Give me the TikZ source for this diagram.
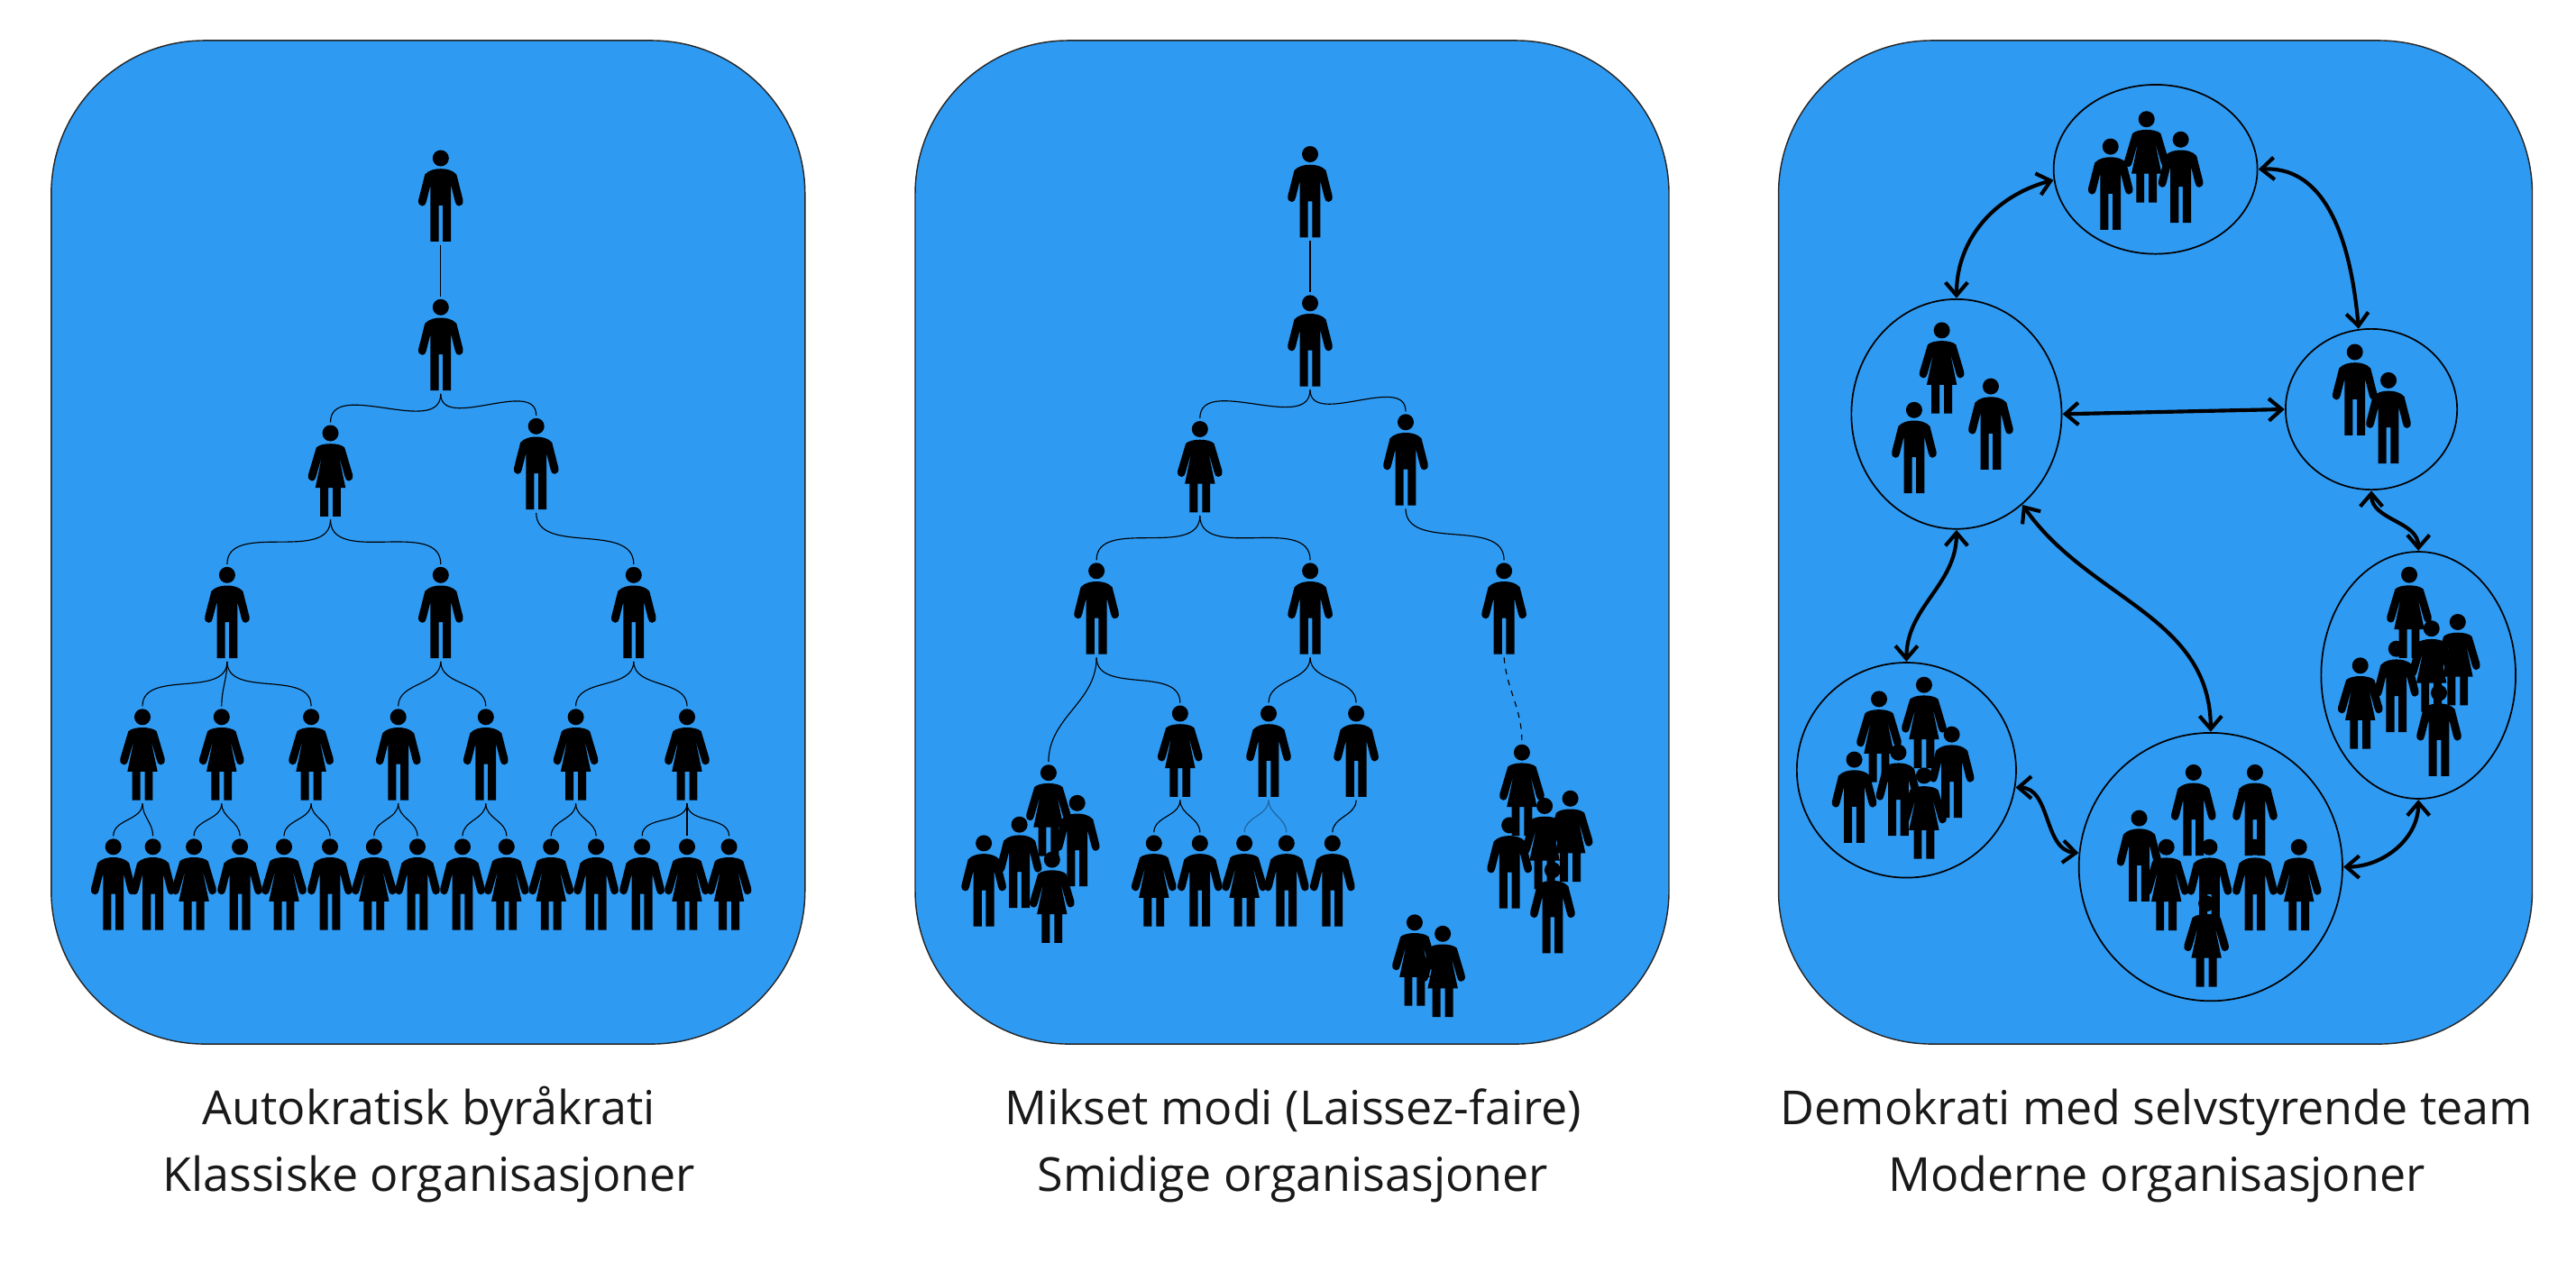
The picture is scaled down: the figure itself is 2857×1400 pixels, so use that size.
\documentclass[tikz,border=0pt]{standalone}
\usepackage{fontspec}
\setmainfont{Open Sans}
\usetikzlibrary{arrows.meta,shapes.geometric}
\definecolor{panelblue}{HTML}{2E9AF2}
\tikzset{
  man/.pic={
    \fill (0,9) circle[radius=9];
    \fill (0,20.7) .. controls (6,20.7) and (13,22) .. (17.5,27) -- (24.6,55)
      .. controls (25.6,60) and (22.5,62) .. (20.4,62) .. controls (18,62) and (16.5,60) .. (16,57.3)
      -- (11.4,39) -- (11.4,101.3) -- (2.3,101.3) -- (2.3,61.3) -- (-2.3,61.3) -- (-2.3,101.3) -- (-11.4,101.3) -- (-11.4,39)
      -- (-16,57.3) .. controls (-16.5,60) and (-18,62) .. (-20.4,62) .. controls (-22.5,62) and (-25.6,60) .. (-24.6,55)
      -- (-17.5,27) .. controls (-13,22) and (-6,20.7) .. (0,20.7) -- cycle;
    \coordinate (-top) at (0,-3);
    \coordinate (-bot) at (0,105);
  },
  woman/.pic={
    \fill (0,9) circle[radius=9];
    \fill (0,20.7) .. controls (6,20.7) and (13,22) .. (15.7,25) -- (24.6,55)
      .. controls (25.6,60) and (22.5,62) .. (20.4,62) .. controls (18,62) and (16.5,60) .. (16,57.3)
      -- (9.3,34) -- (16.7,69.5) -- (11.4,69.5) -- (11.4,101.3) -- (2.5,101.3) -- (2.5,69.5) -- (-2.5,69.5) -- (-2.5,101.3) -- (-11.4,101.3) -- (-11.4,69.5) -- (-16.7,69.5) -- (-9.3,34)
      -- (-16,57.3) .. controls (-16.5,60) and (-18,62) .. (-20.4,62) .. controls (-22.5,62) and (-25.6,60) .. (-24.6,55)
      -- (-15.7,25) .. controls (-13,22) and (-6,20.7) .. (0,20.7) -- cycle;
    \coordinate (-top) at (0,-3);
    \coordinate (-bot) at (0,105);
  }
}
\begin{document}
\begin{tikzpicture}[
  x=0.35pt, y=-0.35pt,
  panel/.style={draw=black!85, fill=panelblue, rounded corners=59.5pt, line width=0.5pt, inner sep=0pt, outer sep=0pt, minimum width=292.6pt, minimum height=389.6pt},
  caption/.style={anchor=base, font=\fontsize{18.2}{22}\selectfont, text=black!90, inner sep=0pt},
  tree/.style={line width=0.4pt},
  group/.style={draw=black, ellipse, line width=0.6pt, inner sep=0pt, outer sep=0.4pt},
  link/.style={{Straight Barb[length=5pt,width=8.6pt]}-{Straight Barb[length=5pt,width=8.6pt]}, line width=1.45pt}
]
\useasboundingbox (0,0) rectangle (2857,1400);
\node[panel] (classic) at (474.8,601.5) {};
\node[panel] (mixed) at (1433,601.5) {};
\node[panel] (modern) at (2390.5,601.5) {};

\node[caption] (classic1) at (475.5,1247) {Autokratisk byråkrati};
\node[caption] (classic2) at (475.5,1321.7) {Klassiske organisasjoner};
\node[caption] (mixed1) at (1434,1247) {Mikset modi (Laissez-faire)};
\node[caption] (mixed2) at (1434,1321.7) {Smidige organisasjoner};
\node[caption] (modern1) at (2392,1247) {Demokrati med selvstyrende team};
\node[caption] (modern2) at (2392,1321.7) {Moderne organisasjoner};

% klassisk
\foreach \n/\x/\y in {aboss/488.8/166.5, achief/488.8/331.8, aleadr/594.7/463.8, amgr1/251.9/628.8, amgr2/488.8/628.8, amgr3/702.8/628.8,
    ateam4/441.7/786.3, ateam5/538.8/786.3, awork1/125.7/930.3, awork2/169.6/930.3, awork4/266.1/930.3, awork6/366/930.3,
    awork8/463/930.3, awork9/513/930.3, awork12/661.1/930.3, awork13/712.1/930.3}
  \pic (\n) at (\x,\y) {man};
\foreach \n/\x/\y in {aleadl/366.5/471.5, ateam1/158/786.3, ateam2/245.8/786.3, ateam3/345.1/786.3, ateam6/638.6/786.3, ateam7/762/786.3,
    awork3/215.1/930.3, awork5/315/930.3, awork7/414.8/930.3, awork10/561.8/930.3, awork11/611.2/930.3, awork14/762/930.3, awork15/808.6/930.3}
  \pic (\n) at (\x,\y) {woman};
\foreach \a/\b in {aboss/achief, achief/aleadl, achief/aleadr, aleadl/amgr1, aleadl/amgr2, aleadr/amgr3,
    amgr1/ateam1, amgr1/ateam2, amgr1/ateam3, amgr2/ateam4, amgr2/ateam5, amgr3/ateam6, amgr3/ateam7,
    ateam1/awork1, ateam1/awork2, ateam2/awork3, ateam2/awork4, ateam3/awork5, ateam3/awork6, ateam4/awork7, ateam4/awork8,
    ateam5/awork9, ateam5/awork10, ateam6/awork11, ateam6/awork12, ateam7/awork13, ateam7/awork14, ateam7/awork15}
  \draw[tree] (\a-bot) to[out=-90,in=90] (\b-top);

% mikset
\foreach \n/\x/\y in {bboss/1453/162, bchief/1453/327.3, bleadr/1559/459.3, bmgr1/1216.1/624.3, bmgr2/1453.1/624.3, bmgr3/1668.1/624.3,
    bteam2/1407/782.5, bteam3/1504.1/782.5, bwork2/1330.8/926.4, bwork4/1426.8/926.4, bwork5/1477.8/926.4,
    bleft2/1194.7/881.8, bleft3/1130.6/905.7, bleft4/1091.1/926.4, bright4/1674.2/906.4, bright5/1721.9/956.1}
  \pic (\n) at (\x,\y) {man};
\foreach \n/\x/\y in {bleadl/1330.8/467, bteam1/1308.8/782.5, bwork1/1279.8/926.4, bwork3/1380.1/926.4,
    bleft1/1162.9/848.2, bleft5/1166.8/944.6, bright1/1687.9/825.7, bright2/1741.6/876.8, bright3/1713.1/885,
    bpair1/1568.9/1014.3, bpair2/1600.1/1026.8}
  \pic (\n) at (\x,\y) {woman};
\foreach \a/\b in {bboss/bchief, bchief/bleadl, bchief/bleadr, bleadl/bmgr1, bleadl/bmgr2, bleadr/bmgr3,
    bmgr1/bleft1, bmgr1/bteam1, bmgr2/bteam2, bmgr2/bteam3, bteam1/bwork1, bteam1/bwork2, bteam3/bwork5}
  \draw[tree] (\a-bot) to[out=-90,in=90] (\b-top);
\draw[tree, black!35!panelblue] (bteam2-bot) to[out=-90,in=90] (bwork3-top);
\draw[tree, black!35!panelblue] (bteam2-bot) to[out=-90,in=90] (bwork4-top);
\draw[tree, dash pattern=on 2.2pt off 2.2pt] (bmgr3-bot) to[out=-85,in=90] (bright1-top);

% moderne
\node[group, minimum width=79.1pt, minimum height=65.7pt] (ctop) at (2390.6,187.8) {};
\node[group, minimum width=81.6pt, minimum height=89.2pt] (cleft) at (2169.9,459.3) {};
\node[group, minimum width=66.6pt, minimum height=62.4pt] (cright) at (2630,454) {};
\node[group, minimum width=75.5pt, minimum height=95.9pt] (cfar) at (2682.2,749) {};
\node[group, minimum width=85.1pt, minimum height=83.5pt] (clow) at (2114.4,854.3) {};
\node[group, minimum width=102.3pt, minimum height=104.1pt] (cbig) at (2451.8,961.6) {};
\foreach \n/\x/\y in {c11/2340.7/153.6, c12/2418.6/145.8, c21/2122.9/445.8, c22/2207.9/419.6, c31/2611.7/381.5, c32/2649/412.9,
    c41/2657.8/710.7, c42/2705/759.6, c51/2164.6/805.7, c52/2056.5/833.6, c53/2105.4/825.7,
    c61/2432.8/847.9, c62/2500.9/847.9, c63/2372.5/898.6, c64/2450.4/930.7, c65/2500.9/930.7}
  \pic (\n) at (\x,\y) {man};
\foreach \n/\x/\y in {c13/2380.7/123.2, c23/2153.6/357.4, c43/2672/628.6, c44/2725.8/681, c45/2696.7/688.2, c46/2617.7/729.3,
    c54/2084/766.4, c55/2133.9/750.7, c56/2133.9/851.4, c66/2402.7/930.7, c67/2549.7/930.7, c68/2447.1/993.2}
  \pic (\n) at (\x,\y) {woman};
\draw[link] (cleft.north) to[out=90,in=195] (ctop.186);
\draw[link] (ctop.east) to[out=3,in=95] (cright.99);
\draw[link] (cleft.east) to (cright.west);
\draw[link] (cright.south) to[out=-90,in=90] (cfar.north);
\draw[link] (cleft.south) to[out=-90,in=90] (clow.north);
\draw[link] (cleft.-54) to[out=-55,in=90] (cbig.north);
\draw[link] (clow.-9) to[out=0,in=175] (cbig.174);
\draw[link] (cbig.east) to[out=0,in=-90] (cfar.south);
\end{tikzpicture}
\end{document}
